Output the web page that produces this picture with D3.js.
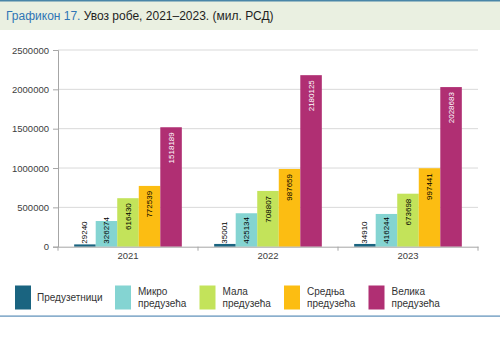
<!DOCTYPE html>
<html><head><meta charset="utf-8">
<script src="https://cdn.jsdelivr.net/npm/d3@7"></script>
<style>body{margin:0;background:#fff}svg{display:block}</style>
</head><body>
<svg id="c" width="500" height="342"></svg>
<script>
const years = ["2021", "2022", "2023"];
const seriesNames = ["Предузетници", "Микро предузећа", "Мала предузећа", "Средња предузећа", "Велика предузећа"];
const predValues = [29240, 35001, 34910];
const microValues = [326274, 425134, 416244];
const malaValues = [616430, 708807, 673698];
const srednjaValues = [772539, 987659, 997441];
const velikaValues = [1518189, 2180125, 2028683];
const yTicks = [0, 500000, 1000000, 1500000, 2000000, 2500000];
const colors = ["#1a6480", "#84d4d2", "#c3e35a", "#fcbd12", "#b02f73"];
const labelColors = ["#000", "#000", "#000", "#000", "#fff"];

const allValues = [predValues, microValues, malaValues, srednjaValues, velikaValues];
const svg = d3.select("#c");
const font = "'Liberation Sans', Arial, sans-serif";

// header
svg.append("rect").attr("x",0).attr("y",0).attr("width",500).attr("height",30).attr("fill","#eaf0e1");
svg.append("rect").attr("x",0).attr("y",0).attr("width",500).attr("height",1.5).attr("fill","#4a86a8");
const t = svg.append("text").attr("x",6).attr("y",19.5).attr("font-family",font).attr("font-size",12);
t.append("tspan").attr("fill","#2f75b5").text("Графикон 17.");
t.append("tspan").attr("fill","#1e1e1e").text(" Увоз робе, 2021–2023. (мил. РСД)");

const pLeft = 58, pRight = 478, pTop = 50, pBottom = 246.7;
const y = d3.scaleLinear().domain([0, 2500000]).range([pBottom, pTop]);
const x0 = d3.scaleBand().domain(years).range([pLeft, pRight]);
const inset = x0.bandwidth() * 0.1155;
const x1 = d3.scaleBand().domain(d3.range(seriesNames.length)).range([inset, x0.bandwidth() - inset]);

// grid
svg.append("g").selectAll("line").data(yTicks.slice(1)).join("line")
  .attr("x1", pLeft).attr("x2", pRight).attr("y1", d => y(d)).attr("y2", d => y(d))
  .attr("stroke", "#d9d9d9").attr("stroke-width", 1);

// y axis
const yAxis = svg.append("g").attr("transform", `translate(${pLeft},0)`)
  .call(d3.axisLeft(y).tickValues(yTicks).tickSize(5).tickPadding(4).tickFormat(d3.format("d")));
yAxis.select(".domain").attr("stroke", "#a6a6a6");
yAxis.selectAll(".tick line").attr("stroke", "#a6a6a6");
yAxis.selectAll("text").attr("font-family", font).attr("font-size", 9.5).attr("fill", "#404040");

// bars
const groups = svg.append("g").selectAll("g").data(years).join("g")
  .attr("transform", d => `translate(${x0(d)},0)`);
groups.each(function(yr, yi) {
  const g = d3.select(this);
  seriesNames.forEach((s, si) => {
    const v = allValues[si][yi];
    g.append("rect").attr("x", x1(si)).attr("width", x1.bandwidth())
      .attr("y", y(v)).attr("height", pBottom - y(v)).attr("fill", colors[si]);
  });
});

// x axis
const xAxis = svg.append("g").attr("transform", `translate(0,${pBottom})`)
  .call(d3.axisBottom(x0).tickSize(0).tickPadding(6));
xAxis.select(".domain").attr("stroke", "#a6a6a6");
xAxis.selectAll("text").attr("font-family", font).attr("font-size", 9.5).attr("fill", "#404040");
svg.append("g").selectAll("line").data(years.concat(["end"])).join("line")
  .attr("x1", (d, i) => i < years.length ? x0(d) : pRight)
  .attr("x2", (d, i) => i < years.length ? x0(d) : pRight)
  .attr("y1", pBottom).attr("y2", pBottom + 4).attr("stroke", "#a6a6a6");

// value labels
groups.each(function(yr, yi) {
  const g = d3.select(this);
  seriesNames.forEach((s, si) => {
    const v = allValues[si][yi];
    const cx = x1(si) + x1.bandwidth() / 2;
    const lab = g.append("text").attr("font-family", font).attr("font-size", 8)
      .attr("text-anchor", "end").attr("dominant-baseline", "central").text(String(v));
    const len = lab.node().getComputedTextLength();
    let topY = y(v) + 5;
    if (topY + len > pBottom - 3) topY = pBottom - 3 - len;
    const c = (v < 100000) ? "#000" : labelColors[si];
    lab.attr("fill", c).attr("transform", `translate(${cx},${topY}) rotate(-90)`);
  });
});

// legend
const legX = [15, 115, 199.5, 284, 368.5];
const leg = svg.append("g");
seriesNames.forEach((s, i) => {
  leg.append("rect").attr("x", legX[i]).attr("y", 285.5).attr("width", 16).attr("height", 24).attr("fill", colors[i]);
  const words = s.split(" ");
  const tx = leg.append("text").attr("font-family", font).attr("font-size", 10).attr("fill", "#333");
  if (words.length === 1) {
    tx.append("tspan").attr("x", legX[i] + 22).attr("y", 301).text(words[0]);
  } else {
    tx.append("tspan").attr("x", legX[i] + 23).attr("y", 295).text(words[0]);
    tx.append("tspan").attr("x", legX[i] + 23).attr("y", 307).text(words[1]);
  }
});
svg.append("rect").attr("x", 0).attr("y", 315.5).attr("width", 500).attr("height", 1.2).attr("fill", "#5b8db8");
</script>
</body></html>
